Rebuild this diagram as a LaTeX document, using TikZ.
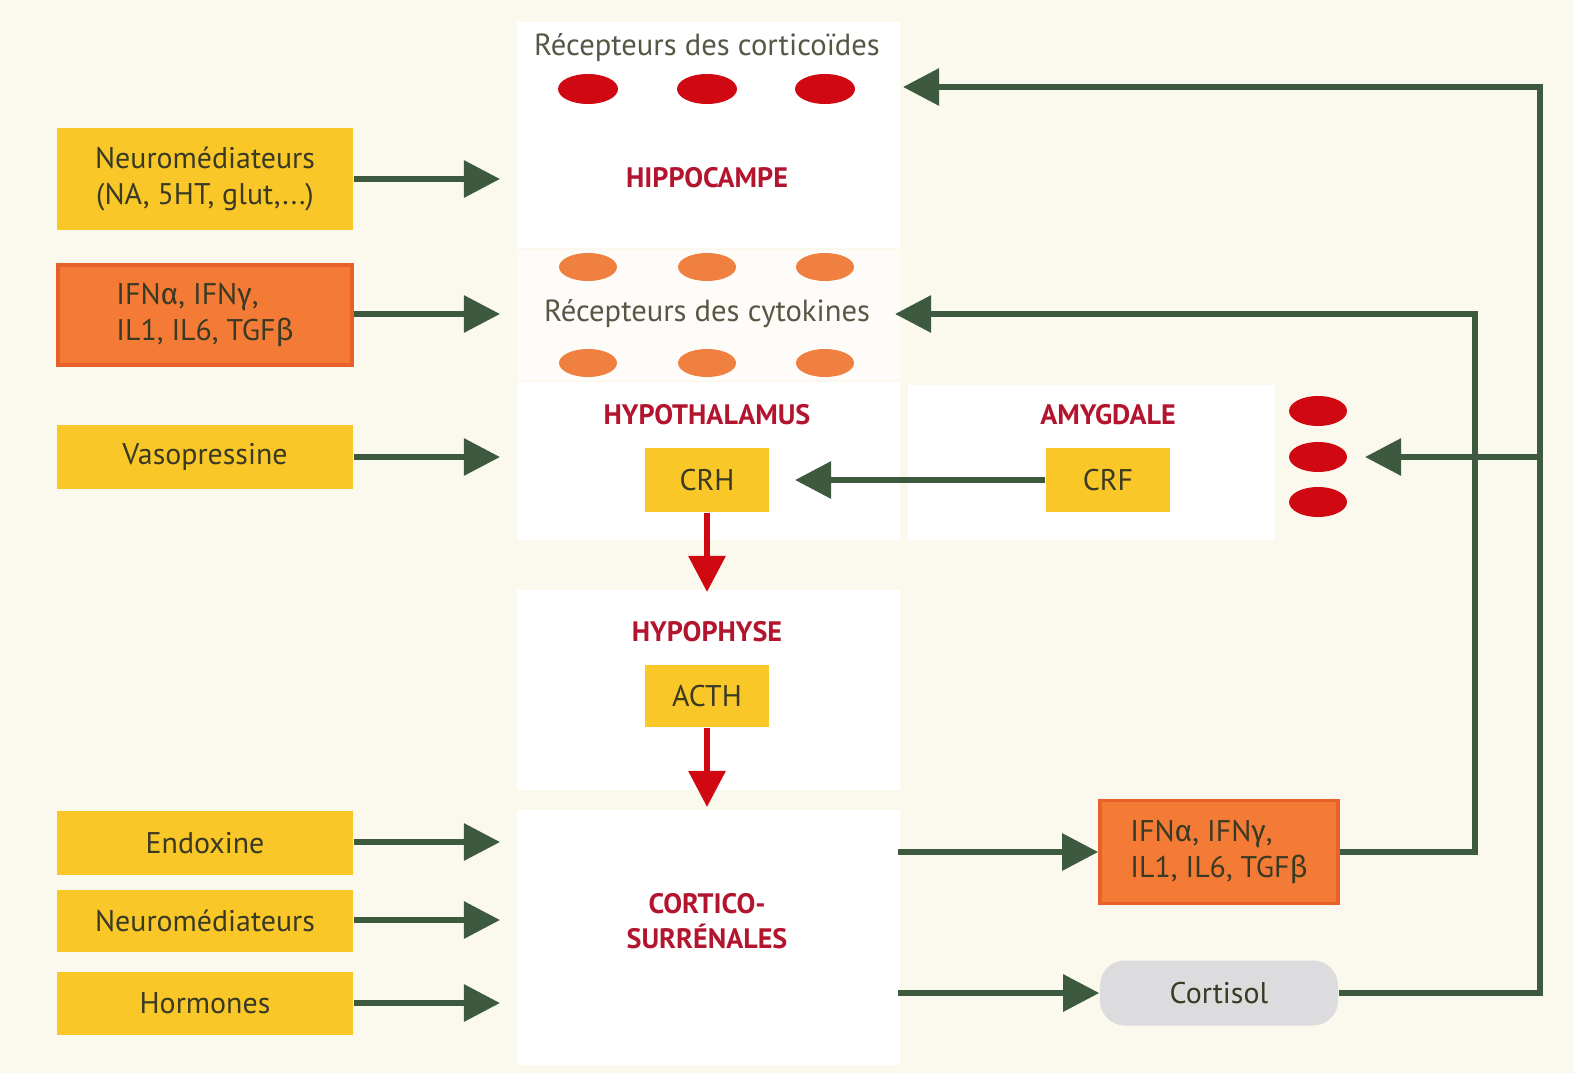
\documentclass[tikz,border=0pt]{standalone}
\usepackage{fontspec}
\setmainfont{PT Sans}
\newfontfamily\grk{Fira Sans}
\usetikzlibrary{arrows.meta}
\definecolor{bgc}{HTML}{FBF8EE}
\definecolor{yel}{HTML}{F9C828}
\definecolor{ora}{HTML}{F47B36}
\definecolor{orab}{HTML}{E8612A}
\definecolor{grn}{HTML}{3D5A3F}
\definecolor{rd}{HTML}{D00812}
\definecolor{ttl}{HTML}{B3142E}
\definecolor{ell2}{HTML}{F08040}
\definecolor{gry}{HTML}{DCDCDE}
\definecolor{txt}{HTML}{3A3A24}
\tikzset{
  x=0.01cm, y=-0.01cm,
  ybox/.style={fill=yel, draw=none, inner sep=0pt, text=txt, font=\fontsize{8.5}{10}\selectfont, align=center},
  obox/.style={fill=ora, draw=orab, line width=1pt, inner sep=0pt, text=txt, font=\fontsize{8.5}{10}\selectfont, align=left},
  title/.style={text=ttl, font=\bfseries\fontsize{8}{10}\selectfont, align=center},
  recep/.style={text=txt!85, font=\fontsize{8.7}{10}\selectfont},
  garr/.style={draw=grn, line width=1.7pt, -{Triangle[length=3.6mm,width=3.6mm]}},
  rarr/.style={draw=rd, line width=1.7pt, -{Triangle[length=3.6mm,width=3.6mm]}},
}
\newcommand{\ifntext}{IFN{\grk α}, IFN{\grk γ},\\IL1, IL6, TGF{\grk β}}
\begin{document}
\begin{tikzpicture}
\fill[bgc] (0,0) rectangle (1574,1073);
\useasboundingbox (0,0) rectangle (1574,1073);
% panels
\fill[white] (517,22) rectangle (900,248);
\fill[white!60!bgc] (517,250) rectangle (900,380);
\fill[white] (517,382) rectangle (900,540);
\fill[white] (908,385) rectangle (1275,540);
\fill[white] (517,590) rectangle (900,790);
\fill[white] (517,810) rectangle (900,1065);

% left boxes
\node[ybox, minimum width=2.96cm, minimum height=1.01cm] (neu) at (205,179) {Neuromédiateurs\\(NA, 5HT, glut,...)};
\node[obox, minimum width=2.94cm, minimum height=1.0cm] (ifnl) at (205,315) {\ifntext};
\node[ybox, minimum width=2.96cm, minimum height=0.63cm] (vaso) at (205,457) {Vasopressine};
\node[ybox, minimum width=2.96cm, minimum height=0.63cm] (endo) at (205,843) {Endoxine};
\node[ybox, minimum width=2.96cm, minimum height=0.62cm] (neu2) at (205,921) {Neuromédiateurs};
\node[ybox, minimum width=2.96cm, minimum height=0.63cm] (horm) at (205,1003) {Hormones};

% center targets
\coordinate (thip) at (500,179);
\coordinate (tcyt) at (500,314);
\coordinate (thyp) at (500,457);
\coordinate (tc1) at (500,842);
\coordinate (tc2) at (500,920);
\coordinate (tc3) at (500,1003);

\node[recep] (rcort) at (707,48) {Récepteurs des corticoïdes};
\foreach \xx in {588,707,825}{
  \fill[rd] (\xx,89) ellipse [x radius=30, y radius=15];
  \fill[ell2] (\xx,267) ellipse [x radius=29, y radius=14];
  \fill[ell2] (\xx,363) ellipse [x radius=29, y radius=14];
}
\node[title] (hippo) at (707,178) {HIPPOCAMPE};
\node[recep] (rcyt) at (707,314) {Récepteurs des cytokines};
\node[title] (hypo) at (707,415) {HYPOTHALAMUS};
\node[ybox, minimum width=1.23cm, minimum height=0.64cm] (crh) at (707,480) {CRH};
\node[title] (hypoph) at (707,632) {HYPOPHYSE};
\node[ybox, minimum width=1.23cm, minimum height=0.62cm] (acth) at (707,696) {ACTH};
\node[title] (cort) at (707,921) {CORTICO-\\SURRÉNALES};
\coordinate (cortop) at (707,807);

\node[title] (amy) at (1108,415) {AMYGDALE};
\node[ybox, minimum width=1.24cm, minimum height=0.64cm] (crf) at (1108,480) {CRF};
\foreach \yy in {411,457,502}{
  \fill[rd] (1318,\yy) ellipse [x radius=29, y radius=15];
}
\coordinate (tamy) at (1365,457);
\coordinate (tcrh) at (795,480);
\coordinate (trc) at (903,87);
\coordinate (trcy) at (895,314);

\node[obox, minimum width=2.38cm, minimum height=1.03cm] (ifnr) at (1219,852) {\ifntext};
\node[fill=gry, rounded corners=0.25cm, minimum width=2.38cm, minimum height=0.65cm, inner sep=0pt, text=txt, font=\fontsize{8.5}{10}\selectfont] (cortisol) at (1219,993) {Cortisol};
\coordinate (s1) at (898,852);
\coordinate (s2) at (898,993);

% arrows left
\draw[garr] (neu.east |- thip) -- (thip);
\draw[garr] (ifnl.east |- tcyt) -- (tcyt);
\draw[garr] (vaso.east |- thyp) -- (thyp);
\draw[garr] (endo.east |- tc1) -- (tc1);
\draw[garr] (neu2.east |- tc2) -- (tc2);
\draw[garr] (horm.east |- tc3) -- (tc3);

% red arrows
\draw[rarr] (crh.south) -- (707,592);
\draw[rarr] (acth.south) -- (cortop);

% CRF -> CRH
\draw[garr] (crf.west) -- (tcrh);

% outputs
\draw[garr] (s1) -- (ifnr.west);
\draw[garr] (s2) -- (cortisol.west);

% feedback
\draw[garr] (ifnr.east) -| (1475,314) -- (trcy);
\draw[garr] (cortisol.east) -| (1540,87) -- (trc);
\draw[garr] (1540,457) -- (tamy);
\end{tikzpicture}
\end{document}
